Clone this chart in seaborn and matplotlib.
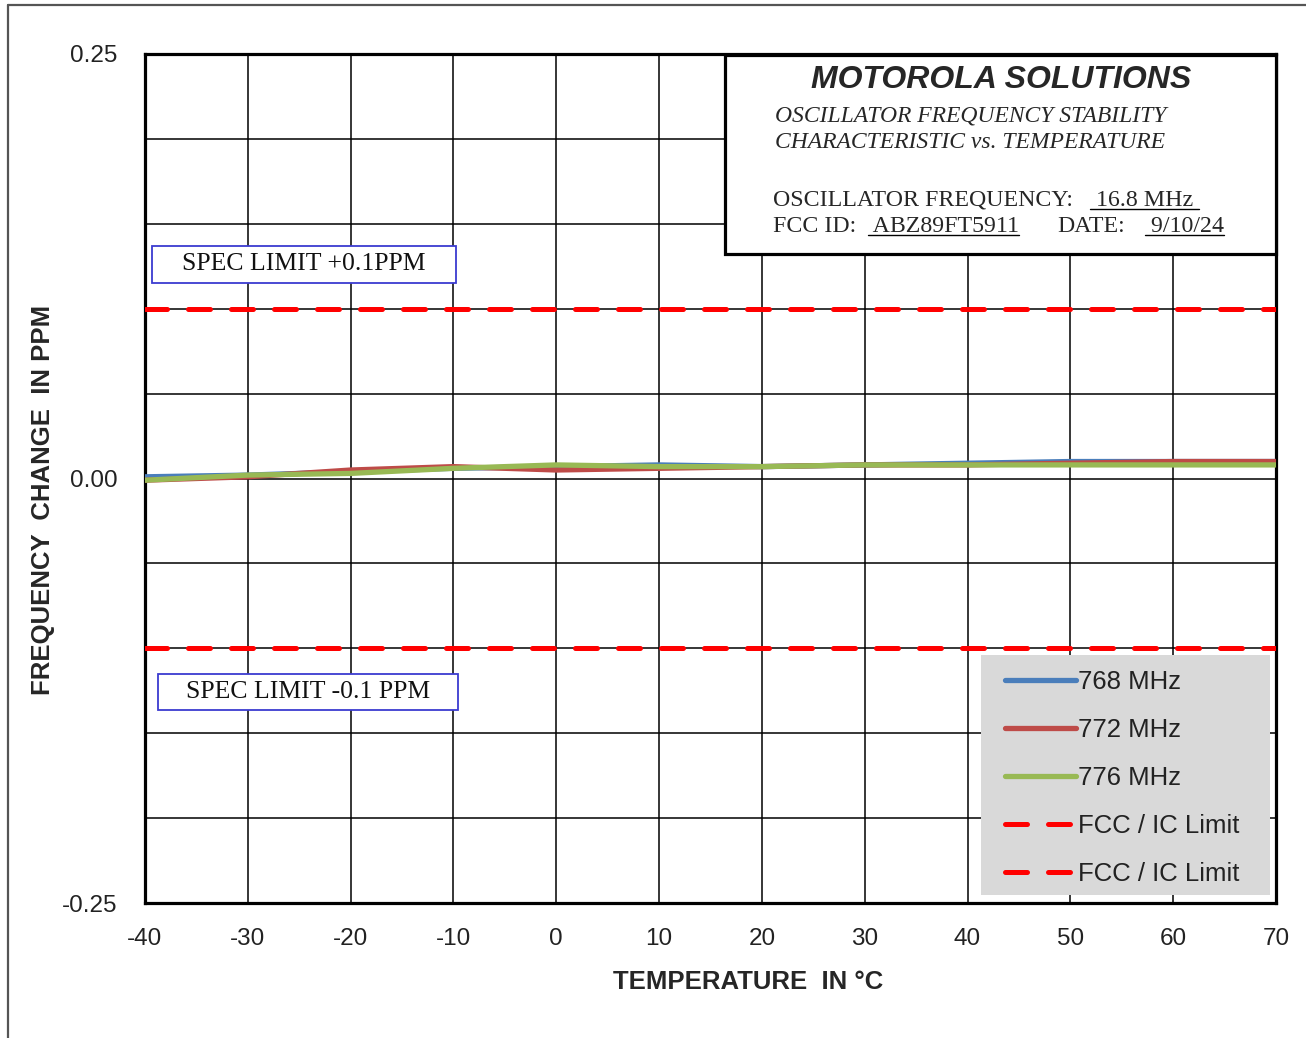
import numpy as np
import pandas as pd
import matplotlib
matplotlib.use("Agg")
import matplotlib.pyplot as plt
from matplotlib.patches import Rectangle
from matplotlib.lines import Line2D
import seaborn as sns

# ---------------- data ----------------
temps = [-40, -30, -20, -10, 0, 10, 20, 30, 40, 50, 60, 70]
f768 = [0.001, 0.002, 0.004, 0.006, 0.007, 0.008, 0.007, 0.008, 0.009, 0.010, 0.010, 0.010]
f772 = [-0.001, 0.001, 0.005, 0.007, 0.005, 0.006, 0.007, 0.008, 0.008, 0.009, 0.010, 0.010]
f776 = [-0.001, 0.002, 0.003, 0.006, 0.008, 0.007, 0.007, 0.008, 0.008, 0.008, 0.008, 0.008]
upper_limit = [0.1] * len(temps)
lower_limit = [-0.1] * len(temps)
series_labels = ["768 MHz", "772 MHz", "776 MHz", "FCC / IC Limit", "FCC / IC Limit"]
xticks = [-40, -30, -20, -10, 0, 10, 20, 30, 40, 50, 60, 70]
yticks = [-0.25, -0.20, -0.15, -0.10, -0.05, 0.0, 0.05, 0.10, 0.15, 0.20, 0.25]
ytick_labeled = [-0.25, 0.0, 0.25]

sns.set_style("white")
plt.rcParams["font.family"] = ["Liberation Sans", "DejaVu Sans"]

W, H = 1306, 1038
fig = plt.figure(figsize=(W / 100, H / 100), dpi=100)
AX_L, AX_R, AX_T, AX_B = 145, 1276, 54, 903
ax = fig.add_axes([AX_L / W, (H - AX_B) / H, (AX_R - AX_L) / W, (AX_B - AX_T) / H])


def ax_xy(px, py):
    return (px - AX_L) / (AX_R - AX_L), (AX_B - py) / (AX_B - AX_T)


colors = ["#4a7ebb", "#be4b48", "#98b954"]
for vals, lab, c in zip([f768, f772, f776], series_labels[:3], colors):
    sns.lineplot(x=temps, y=vals, ax=ax, color=c, lw=3.8, label=lab,
                 solid_capstyle="round", zorder=3)
for vals, lab in zip([upper_limit, lower_limit], series_labels[3:]):
    sns.lineplot(x=temps, y=vals, ax=ax, color="#ff0000", lw=3.6, label=lab,
                 linestyle=(0, (4.4, 4.2)), dash_capstyle="round", zorder=3)

ax.set_xlim(-40, 70)
ax.set_ylim(-0.25, 0.25)
ax.set_xticks(xticks)
ax.set_yticks(yticks)
ax.set_xticklabels([str(t) for t in xticks])
ax.set_yticklabels([f"{v:.2f}" if any(abs(v - l) < 1e-9 for l in ytick_labeled) else "" for v in yticks])
ax.tick_params(axis="both", length=0, labelsize=17.5, colors="#222222")
ax.tick_params(axis="y", pad=20)
ax.tick_params(axis="x", pad=18)
ax.grid(True, color="black", lw=1.1)
ax.set_axisbelow(True)
for s in ax.spines.values():
    s.set_visible(True)
    s.set_color("black")
    s.set_linewidth(2.3)

ax.set_xlabel("TEMPERATURE  IN °C", fontsize=18.5, fontweight="bold")
ax.set_ylabel("FREQUENCY  CHANGE  IN PPM", fontsize=18.5, fontweight="bold")
ax.xaxis.set_label_coords(ax_xy(748, 0)[0], ax_xy(0, 970)[1])
ax.yaxis.set_label_coords(ax_xy(55, 0)[0], ax_xy(0, 500)[1])

# legend background and legend
x0, y0 = ax_xy(981, 895)
x1, y1 = ax_xy(1270, 655)
ax.add_patch(Rectangle((x0, y0), x1 - x0, y1 - y0, transform=ax.transAxes,
                       facecolor="#d9d9d9", edgecolor="none", zorder=4))
lx, ly = ax_xy(1005, 670)
leg = ax.legend(loc="upper left", bbox_to_anchor=(lx, ly), frameon=False,
                fontsize=18.5, handlelength=2.75, handletextpad=0.1,
                labelspacing=0.93, borderpad=0, borderaxespad=0)
leg.set_zorder(5)
for t in leg.get_texts():
    t.set_color("#222222")

# header box
bx0, by0 = ax_xy(725, 254)
bx1, by1 = ax_xy(1276, 55)
ax.add_patch(Rectangle((bx0, by0), bx1 - bx0, by1 - by0, transform=ax.transAxes,
                       facecolor="white", edgecolor="black", lw=2.3, zorder=4,
                       clip_on=False))
serif = ["Liberation Serif", "DejaVu Serif"]
tx = lambda px, py, s, **kw: ax.text(*ax_xy(px, py), s, transform=ax.transAxes,
                                     zorder=6, **kw)
tx(1001, 80, "MOTOROLA SOLUTIONS", fontsize=23, fontweight="bold", style="italic",
   ha="center", va="center", family=["Liberation Sans", "DejaVu Sans"])
tx(775, 116, "OSCILLATOR FREQUENCY STABILITY", fontsize=17, style="italic",
   ha="left", va="center", family=serif)
tx(775, 143, "CHARACTERISTIC vs. TEMPERATURE", fontsize=17, style="italic",
   ha="left", va="center", family=serif)

underlined = []
fs = 17.2
tx(773, 200, "OSCILLATOR FREQUENCY:", fontsize=fs, ha="left", va="center", family=serif)
underlined.append(tx(1090, 200, " 16.8 MHz ", fontsize=fs, ha="left", va="center", family=serif))
tx(773, 226, "FCC ID:", fontsize=fs, ha="left", va="center", family=serif)
underlined.append(tx(868, 226, " ABZ89FT5911", fontsize=fs, ha="left", va="center", family=serif))
tx(1057, 226, "DATE:", fontsize=fs, ha="left", va="center", family=serif)
underlined.append(tx(1145, 226, " 9/10/24", fontsize=fs, ha="left", va="center", family=serif))

# spec limit boxes
for (px0, py0, px1, py1, label) in [(152, 246, 456, 283, "SPEC LIMIT +0.1PPM"),
                                     (158, 674, 458, 710, "SPEC LIMIT -0.1 PPM")]:
    a0, b0 = ax_xy(px0, py1)
    a1, b1 = ax_xy(px1, py0)
    ax.add_patch(Rectangle((a0, b0), a1 - a0, b1 - b0, transform=ax.transAxes,
                           facecolor="white", edgecolor="#3b3bd0", lw=1.3, zorder=4))
    ax.text((a0 + a1) / 2, (b0 + b1) / 2, label, transform=ax.transAxes,
            fontsize=18.5, ha="center", va="center", family=serif, zorder=6,
            color="#111111")

# underline pieces using rendered extents
fig.canvas.draw()
renderer = fig.canvas.get_renderer()
for t in underlined:
    bb = t.get_window_extent(renderer)
    yline = bb.y0 + 2
    fig.add_artist(Line2D([bb.x0 / W, bb.x1 / W], [yline / H, yline / H],
                          color="black", lw=1.0, transform=fig.transFigure, zorder=7))

# outer frame
fig.add_artist(Line2D([8 / W, 8 / W], [0, (H - 5) / H], color="#555555", lw=1.6,
                      transform=fig.transFigure))
fig.add_artist(Line2D([8 / W, 1.0], [(H - 5) / H, (H - 5) / H], color="#555555", lw=1.6,
                      transform=fig.transFigure))

fig.savefig("out.png", dpi=100, facecolor="white")
